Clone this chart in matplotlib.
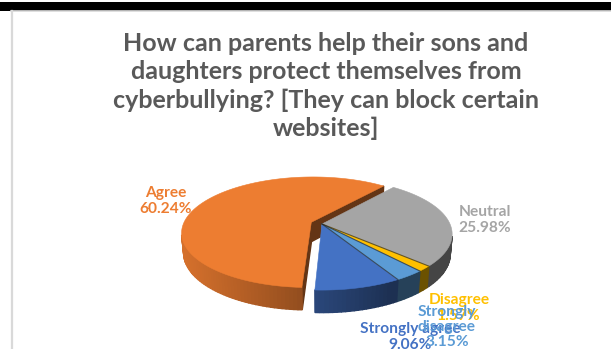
import numpy as np
import matplotlib
matplotlib.use("Agg")
import matplotlib.pyplot as plt
from matplotlib.patches import Polygon, Rectangle
from matplotlib.colors import to_rgb

# survey answers, in the order the slices are laid out (clockwise)
categories = ["Strongly agree", "Agree", "Neutral", "Disagree", "Strongly disagree"]
shares = [9.06, 60.24, 25.98, 1.57, 3.15]
slice_colors = ["#4472C4", "#ED7D31", "#A5A5A5", "#FFC000", "#5B9BD5"]
label_lines = ["Strongly agree", "Agree", "Neutral", "Disagree", "Strongly\ndisagree"]
exploded = ["Agree"]

title = ("How can parents help their sons and\n"
         "daughters protect themselves from\n"
         "cyberbullying? [They can block certain\n"
         "websites]")

# where each data label sits (pixel coords)
label_pos = {"Strongly agree": (410, 337), "Agree": (166, 201), "Neutral": (485, 220),
             "Disagree": (459, 308), "Strongly disagree": (447, 327)}

FIRST_ANGLE = 150.0      # degrees, clockwise from 12 o'clock
ELEV = np.radians(25)
D = 5.0                  # camera distance (in pie radii)
THICK = 0.17             # pie height
BLOW = 0.09              # explode distance
CX, CY = 322, 224
S = 128 * D

cs, sn = np.cos(ELEV), np.sin(ELEV)


def proj(X, Y, Z):
    depth = D + Y * cs - Z * sn
    return CX + S * X / depth, CY - S * (Y * sn + Z * cs) / depth, depth


def shade(col, phi):
    f = 0.5 + 0.4 * np.cos(np.radians(phi - 195))
    f = min(max(f, 0.42), 0.92)
    return tuple(np.array(to_rgb(col)) * f)


def visible(nx, ny, px, py, pz):
    # normal . (camera - point)
    return nx * (0 - px) + ny * (-D * cs - py) + 0 * (D * sn - pz) > 0


fig = plt.figure(figsize=(6.11, 3.49), dpi=100)
ax = fig.add_axes([0, 0, 1, 1])
ax.set_xlim(0, 611)
ax.set_ylim(349, 0)
ax.axis("off")

# window strip and chart border
ax.add_patch(Rectangle((0, 2), 611, 8.8, color="black", lw=0))
ax.plot([11, 611], [11.3, 11.3], color="#d9d9d9", lw=1.2)
ax.plot([11.8, 11.8], [11, 349], color="#d9d9d9", lw=1.6)

# slice angles, clockwise from the start angle
start = 90 - FIRST_ANGLE
spans = np.array(shares) / sum(shares) * 360
hi_angles = start - np.concatenate([[0], np.cumsum(spans)[:-1]])
lo_angles = hi_angles - spans

sides = []
tops = []
for i, name in enumerate(categories):
    lo, hi = lo_angles[i], hi_angles[i]
    col = slice_colors[i]
    ox = oy = 0.0
    if name in exploded:
        mid = np.radians((lo + hi) / 2)
        ox, oy = BLOW * np.cos(mid), BLOW * np.sin(mid)
    n = max(3, int((hi - lo) / 1.5))
    th = np.radians(np.linspace(lo, hi, n))
    xs, ys = ox + np.cos(th), oy + np.sin(th)

    # curved outer wall
    for j in range(n - 1):
        tm = (th[j] + th[j + 1]) / 2
        px, py = ox + np.cos(tm), oy + np.sin(tm)
        if not visible(np.cos(tm), np.sin(tm), px, py, -THICK / 2):
            continue
        quad = [proj(xs[j], ys[j], 0)[:2], proj(xs[j + 1], ys[j + 1], 0)[:2],
                proj(xs[j + 1], ys[j + 1], -THICK)[:2], proj(xs[j], ys[j], -THICK)[:2]]
        depth = proj(px, py, -THICK / 2)[2]
        sides.append((depth, quad, shade(col, np.degrees(tm))))

    # cut faces next to the gap
    nb = [categories[(i - 1) % len(categories)], categories[(i + 1) % len(categories)]]
    if name in exploded or any(k in exploded for k in nb):
        for ang, nang in ((lo, lo - 90), (hi, hi + 90)):
            a, na = np.radians(ang), np.radians(nang)
            mx, my = ox + 0.5 * np.cos(a), oy + 0.5 * np.sin(a)
            if not visible(np.cos(na), np.sin(na), mx, my, -THICK / 2):
                continue
            rx, ry = ox + np.cos(a), oy + np.sin(a)
            face = [proj(ox, oy, 0)[:2], proj(rx, ry, 0)[:2],
                    proj(rx, ry, -THICK)[:2], proj(ox, oy, -THICK)[:2]]
            depth = proj(mx, my, -THICK / 2)[2]
            sides.append((depth, face, shade(col, nang)))

    top = [proj(ox, oy, 0)[:2]] + [proj(x, y, 0)[:2] for x, y in zip(xs, ys)]
    tops.append((top, col))

for depth, verts, c in sorted(sides, key=lambda t: -t[0]):
    ax.add_patch(Polygon(verts, closed=True, facecolor=c, edgecolor=c, lw=1.0))

for verts, c in tops:
    ax.add_patch(Polygon(verts, closed=True, facecolor=c, edgecolor=c, lw=0.4))

# thin dark seams between the slices that stay together
for i, name in enumerate(categories):
    if name in exploded or categories[(i - 1) % len(categories)] in exploded:
        continue
    a = np.radians(hi_angles[i])
    p0 = proj(0, 0, 0)
    p1 = proj(np.cos(a), np.sin(a), 0)
    ax.plot([p0[0], p1[0]], [p0[1], p1[1]], color="#2b2b2b", lw=0.8, alpha=0.7)

ax.text(326, 86, title, ha="center", va="center", fontsize=18, fontweight="bold",
        color="#595959", family="Lato", linespacing=1.27)

for i, name in enumerate(categories):
    x, y = label_pos[name]
    ax.text(x, y, f"{label_lines[i]}\n{shares[i]:.2f}%", ha="center", va="center",
            fontsize=11.2, fontweight="bold", color=slice_colors[i], family="Lato",
            linespacing=1.12)

fig.savefig("out.png", dpi=100)
